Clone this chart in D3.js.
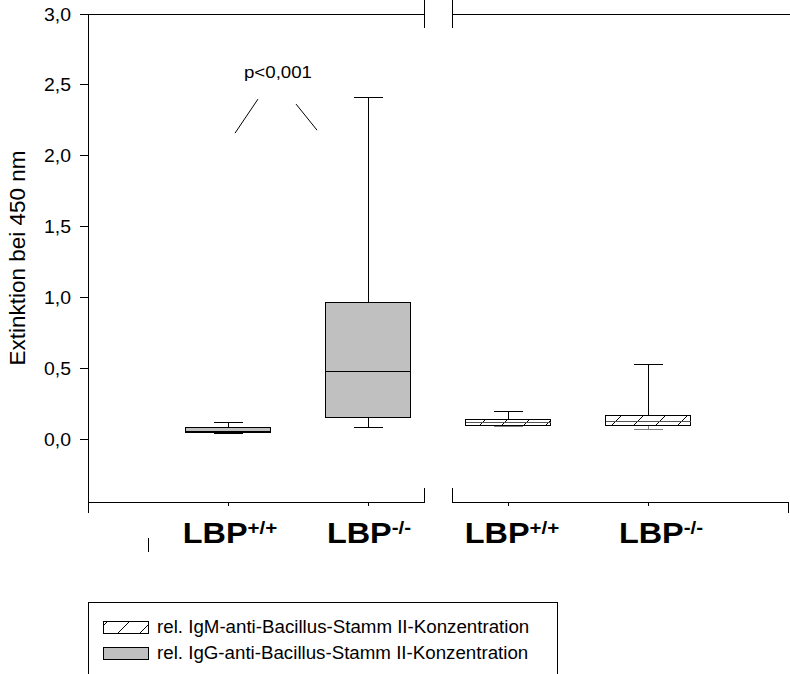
<!DOCTYPE html>
<html>
<head>
<meta charset="utf-8">
<script src="https://cdn.jsdelivr.net/npm/d3@7"></script>
<style>
  body { margin: 0; background: #fff; }
  text { font-family: Arial, "Liberation Sans", sans-serif; }
</style>
</head>
<body>
<div id="chart"></div>
<script>
// box plot values
const groupBase = ['LBP', 'LBP', 'LBP', 'LBP'];
const groupSup = ['+/+', '-/-', '+/+', '-/-'];
const groupPos = [1, 2, 3, 4];
const groupKind = ['IgG', 'IgG', 'IgM', 'IgM'];
const whiskerLow = [0.045, 0.084, 0.09, 0.069];
const quart1 = [0.05, 0.158, 0.10, 0.097];
const median = [0.058, 0.48, 0.12, 0.124];
const quart3 = [0.088, 0.965, 0.145, 0.167];
const whiskerHigh = [0.12, 2.414, 0.195, 0.53];

const yTicks = [0, 0.5, 1.0, 1.5, 2.0, 2.5, 3.0];
const legendKinds = ['IgM', 'IgG'];
const legendLabels = [
    'rel. IgM-anti-Bacillus-Stamm II-Konzentration',
    'rel. IgG-anti-Bacillus-Stamm II-Konzentration'
];
const pText = 'p<0,001';
const pPos = [1.357, 2.548];
const pLines = [[1.214, 2.40, 1.05, 2.16], [1.486, 2.365, 1.636, 2.181]];
const yTitle = 'Extinktion bei 450 nm';

// layout
const width = 790, height = 674;
const stretch = 'scale(1.1,1)';
const labelNudge = [2, 1, 4, 13];
const boxWidth = 85, capWidth = 29;
const breakAt = 2.5, breakHalf = 0.1;

let svg = d3.select('#chart').append('svg')
    .attr('width', width)
    .attr('height', height);

let x = d3.scaleLinear().domain([0, 5]).range([88, 788]);
let y = d3.scaleLinear().domain([-0.44, 3.0]).range([502, 14]);
const fmt = d => d3.format('.1f')(d).replace('.', ',');

let defs = svg.append('defs');
let hatch = defs.append('pattern')
    .attr('id', 'hatch')
    .attr('patternUnits', 'userSpaceOnUse')
    .attr('width', 22).attr('height', 22)
    .attr('x', 3);
hatch.append('rect').attr('width', 22).attr('height', 22).attr('fill', '#fff');
hatch.append('path')
    .attr('d', 'M0,22L22,0M-2,2L2,-2M20,24L24,20')
    .attr('stroke', '#000').attr('stroke-width', 1);

const fillFor = k => k === 'IgG' ? '#c0c0c0' : 'url(#hatch)';

function line(g, x1, y1, x2, y2, color) {
    return g.append('line')
        .attr('x1', x1).attr('y1', y1)
        .attr('x2', x2).attr('y2', y2)
        .attr('stroke', color || '#000')
        .attr('stroke-width', 1)
        .attr('shape-rendering', 'crispEdges');
}

// frame: left axis, top line and bottom axis with the break
let frame = svg.append('g');
let xl = x(breakAt - breakHalf), xr = x(breakAt + breakHalf);
line(frame, x(0), y(3.0), x(0), y.range()[0]);
line(frame, x(0), y(3.0), xl, y(3.0));
line(frame, xr, y(3.0), 790, y(3.0));
line(frame, xl, y(3.0) - 14, xl, y(3.0) + 14);
line(frame, xr, y(3.0) - 14, xr, y(3.0) + 14);

let yb = y.range()[0];
line(frame, x(0), yb, xl, yb);
line(frame, xr, yb, x(5), yb);
line(frame, xl, yb - 14, xl, yb + 1);
line(frame, xr, yb - 14, xr, yb + 1);
line(frame, x(0), yb, x(0), yb + 11);
line(frame, x(5), yb, x(5), yb + 11);
groupPos.forEach(p => line(frame, x(p), yb, x(p), yb + 4));
// small stray mark under the axis
line(frame, 148, 538, 148, 552);

// y ticks and labels
let yAxis = svg.append('g');
yTicks.forEach(t => {
    line(yAxis, x(0) - 8, y(t), x(0), y(t));
    yAxis.append('text')
        .attr('transform', `translate(${x(0) - 17},${y(t) + 6.5}) scale(1.05,1)`)
        .attr('text-anchor', 'end')
        .attr('font-size', 18.5)
        .text(fmt(t));
});

svg.append('text')
    .attr('transform', `translate(25,258) rotate(-90)`)
    .attr('text-anchor', 'middle')
    .attr('font-size', 22.5)
    .text(yTitle);

// boxes
let boxes = svg.append('g');
groupPos.forEach((p, i) => {
    let cx = x(p);
    let low = groupKind[i] === 'IgM' ? '#808080' : '#000';
    line(boxes, cx, y(whiskerHigh[i]), cx, y(quart3[i]));
    line(boxes, cx - capWidth / 2, y(whiskerHigh[i]), cx + capWidth / 2, y(whiskerHigh[i]));
    line(boxes, cx, y(quart1[i]), cx, y(whiskerLow[i]), low);
    line(boxes, cx - capWidth / 2, y(whiskerLow[i]), cx + capWidth / 2, y(whiskerLow[i]), low);
    boxes.append('rect')
        .attr('x', cx - boxWidth / 2)
        .attr('y', y(quart3[i]))
        .attr('width', boxWidth)
        .attr('height', y(quart1[i]) - y(quart3[i]))
        .attr('fill', fillFor(groupKind[i]))
        .attr('stroke', '#000')
        .attr('stroke-width', 1)
        .attr('shape-rendering', 'crispEdges');
    line(boxes, cx - boxWidth / 2, y(median[i]), cx + boxWidth / 2, y(median[i]),
        groupKind[i] === 'IgM' ? '#555' : '#000');
});

// group labels
let labels = svg.append('g');
groupPos.forEach((p, i) => {
    let t = labels.append('text')
        .attr('transform', `translate(${x(p) + labelNudge[i]},543) scale(1.08,1)`)
        .attr('text-anchor', 'middle')
        .attr('font-weight', 'bold')
        .attr('font-size', 30);
    t.append('tspan').text(groupBase[i]);
    t.append('tspan')
        .attr('dy', -9)
        .attr('font-size', 19)
        .text(groupSup[i]);
});

// significance note
svg.append('text')
    .attr('transform', `translate(${x(pPos[0])},${y(pPos[1])}) ${stretch}`)
    .attr('text-anchor', 'middle')
    .attr('font-size', 17)
    .text(pText);
pLines.forEach(l => {
    svg.append('line')
        .attr('x1', x(l[0])).attr('y1', y(l[1]))
        .attr('x2', x(l[2])).attr('y2', y(l[3]))
        .attr('stroke', '#000').attr('stroke-width', 1);
});

// legend
let legend = svg.append('g');
legend.append('rect')
    .attr('x', 88.5).attr('y', 602.5)
    .attr('width', 469).attr('height', 120)
    .attr('fill', 'none')
    .attr('stroke', '#000').attr('stroke-width', 1);
legendKinds.forEach((k, i) => {
    let ly = 621 + i * 26;
    legend.append('rect')
        .attr('x', 103.5).attr('y', ly + 0.5)
        .attr('width', 45).attr('height', 12)
        .attr('fill', fillFor(k))
        .attr('stroke', '#000').attr('stroke-width', 1);
    legend.append('text')
        .attr('transform', `translate(157,${ly + 12}) scale(1.07,1)`)
        .attr('font-size', 17.5)
        .text(legendLabels[i]);
});
</script>
</body>
</html>
